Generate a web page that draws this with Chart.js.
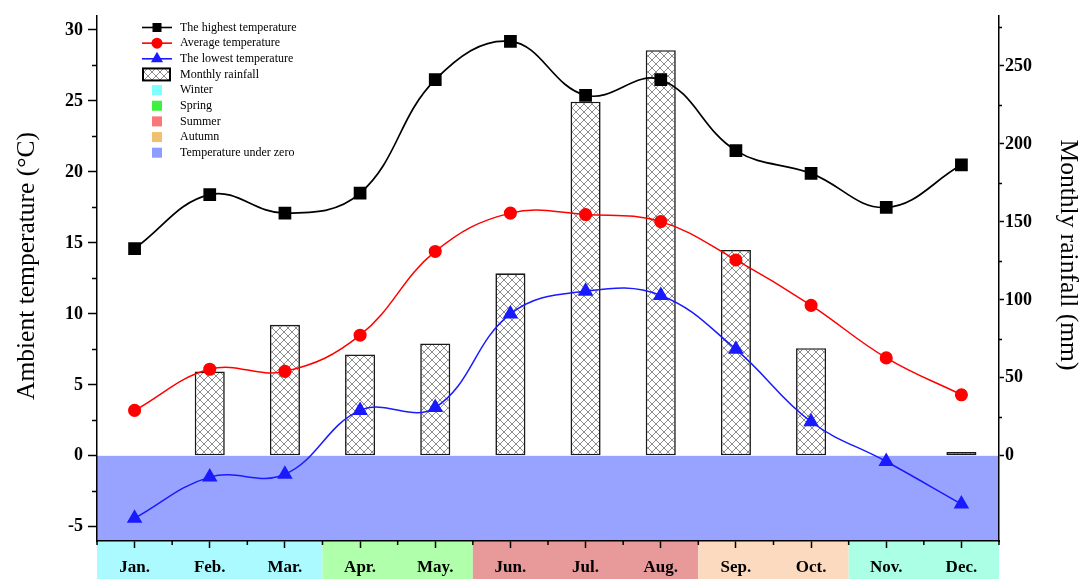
<!DOCTYPE html>
<html>
<head>
<meta charset="utf-8">
<script src="https://cdn.jsdelivr.net/npm/chart.js@4.4.1/dist/chart.umd.min.js"></script>
<style>
  html, body { margin: 0; padding: 0; background: #fff; }
  #wrap { width: 1082px; height: 579px; }
</style>
</head>
<body>
<div id="wrap"><canvas id="c" width="1082" height="579"></canvas></div>
<script>
// Monthly climate data
const months = ['Jan.', 'Feb.', 'Mar.', 'Apr.', 'May.', 'Jun.', 'Jul.', 'Aug.', 'Sep.', 'Oct.', 'Nov.', 'Dec.'];
const highestTemp = [14.6, 18.4, 17.1, 18.5, 26.5, 29.2, 25.4, 26.5, 21.5, 19.9, 17.5, 20.5];
const averageTemp = [3.2, 6.1, 5.95, 8.5, 14.4, 17.1, 17.0, 16.5, 13.8, 10.6, 6.9, 4.3];
const lowestTemp = [-4.4, -1.5, -1.3, 3.2, 3.4, 10.0, 11.6, 11.3, 7.5, 2.4, -0.4, -3.4];
const monthlyRainfall = [0, 54, 84, 65, 72, 117, 227, 260, 132, 69, 0, 2.5];

// Axis ticks
const tempTicks = [-5, 0, 5, 10, 15, 20, 25, 30];
const tempMinorTicks = [-2.5, 2.5, 7.5, 12.5, 17.5, 22.5, 27.5];
const rainTicks = [0, 50, 100, 150, 200, 250];
const rainMinorTicks = [25, 75, 125, 175, 225, 275];
const tempRange = [-6, 31];
const rainPerDegree = 9.1;

// Season spans along the month axis (first month index, last month index + 1)
const seasonSpans = [
  { from: 0, to: 3, color: '#aafaff' },
  { from: 3, to: 5, color: '#b0ffaa' },
  { from: 5, to: 8, color: '#e89a9a' },
  { from: 8, to: 10, color: '#fcdac0' },
  { from: 10, to: 12, color: '#aaffe4' }
];
const belowZeroColor = '#98a2ff';

const legendSeasons = [
  { label: 'Winter', color: '#80ffff' },
  { label: 'Spring', color: '#40f040' },
  { label: 'Summer', color: '#f87878' },
  { label: 'Autumn', color: '#eec070' },
  { label: 'Temperature under zero', color: '#8c9cff' }
];

const SERIF = '"Liberation Serif", "Times New Roman", serif';

const canvas = document.getElementById('c');
const ctx = canvas.getContext('2d');

// Cross-hatch fill for the rainfall bars
function makeHatch() {
  const t = document.createElement('canvas');
  t.width = 8; t.height = 8;
  const g = t.getContext('2d');
  g.fillStyle = '#ffffff';
  g.fillRect(0, 0, 8, 8);
  g.strokeStyle = '#808080';
  g.lineWidth = 0.9;
  g.beginPath();
  g.moveTo(-2, -2); g.lineTo(10, 10);
  g.moveTo(10, -2); g.lineTo(-2, 10);
  g.stroke();
  return ctx.createPattern(t, 'repeat');
}
const hatch = makeHatch();

function drawMarker(c, style, x, y, r, color) {
  c.save();
  c.fillStyle = color;
  c.beginPath();
  if (style === 'rect') {
    c.rect(x - r, y - r, 2 * r, 2 * r);
  } else if (style === 'circle') {
    c.arc(x, y, r, 0, Math.PI * 2);
  } else {
    c.moveTo(x, y - r);
    c.lineTo(x + r * 0.866, y + r * 0.5);
    c.lineTo(x - r * 0.866, y + r * 0.5);
    c.closePath();
  }
  c.fill();
  c.restore();
}

const decorPlugin = {
  id: 'decor',
  beforeDraw(chart) {
    const c = chart.ctx;
    const a = chart.chartArea;
    const xs = chart.scales.x;
    const ys = chart.scales.y;
    c.save();
    c.fillStyle = '#ffffff';
    c.fillRect(0, 0, chart.width, chart.height);
    // region below 0 °C
    const y0 = ys.getPixelForValue(0);
    c.fillStyle = belowZeroColor;
    c.fillRect(a.left, y0, a.right - a.left, a.bottom - y0);
    // season bands under the month axis
    const cw = (a.right - a.left) / months.length;
    seasonSpans.forEach(s => {
      const x1 = xs.getPixelForValue(s.from) - cw / 2;
      const x2 = xs.getPixelForValue(s.to - 1) + cw / 2;
      c.fillStyle = s.color;
      c.fillRect(x1, a.bottom, x2 - x1, chart.height - a.bottom);
    });
    c.restore();
  },
  afterDraw(chart) {
    const c = chart.ctx;
    const a = chart.chartArea;
    const ys = chart.scales.y;
    const ys1 = chart.scales.y1;
    c.save();
    // minor ticks
    c.strokeStyle = '#000';
    c.lineWidth = 1.5;
    c.beginPath();
    tempMinorTicks.forEach(v => {
      const y = Math.round(ys.getPixelForValue(v)) + 0.5;
      c.moveTo(a.left - 5, y); c.lineTo(a.left, y);
    });
    rainMinorTicks.forEach(v => {
      const y = Math.round(ys1.getPixelForValue(v)) + 0.5;
      c.moveTo(a.right, y); c.lineTo(a.right + 3, y);
    });
    const cw = (a.right - a.left) / months.length;
    for (let i = 0; i <= months.length; i++) {
      const x = a.left + i * cw;
      c.moveTo(x, a.bottom); c.lineTo(x, a.bottom + 4);
    }
    c.stroke();

    // axis titles
    c.fillStyle = '#000';
    c.font = '25.5px ' + SERIF;
    c.textAlign = 'center';
    c.textBaseline = 'middle';
    c.save();
    c.translate(27, 266);
    c.rotate(-Math.PI / 2);
    c.fillText('Ambient temperature (\u00B0C)', 0, 0);
    c.restore();
    c.save();
    c.translate(1068, 255);
    c.rotate(Math.PI / 2);
    c.fillText('Monthly rainfall (mm)', 0, 0);
    c.restore();

    // legend
    const lx = 142, tx = 180, top = 27.5, step = 15.65;
    c.font = '12px ' + SERIF;
    c.textAlign = 'left';
    c.textBaseline = 'middle';
    const lineEntries = [
      { label: 'The highest temperature', color: '#000', style: 'rect', r: 4.5 },
      { label: 'Average temperature', color: '#ff0000', style: 'circle', r: 5.5 },
      { label: 'The lowest temperature', color: '#1a1aff', style: 'tri', r: 7 }
    ];
    lineEntries.forEach((e, i) => {
      const y = top + i * step;
      c.strokeStyle = e.color;
      c.lineWidth = 1.6;
      c.beginPath();
      c.moveTo(lx, y); c.lineTo(lx + 30, y);
      c.stroke();
      drawMarker(c, e.style, lx + 15, y, e.r, e.color);
      c.fillStyle = '#000';
      c.fillText(e.label, tx, y);
    });
    const y = top + 3 * step;
    c.fillStyle = hatch;
    c.fillRect(lx + 1, y - 6, 27, 12);
    c.strokeStyle = '#000';
    c.lineWidth = 2;
    c.strokeRect(lx + 1, y - 6, 27, 12);
    c.fillStyle = '#000';
    c.fillText('Monthly rainfall', tx, y);
    legendSeasons.forEach((s, i) => {
      const yy = top + (4 + i) * step;
      c.fillStyle = s.color;
      c.fillRect(152, yy - 5, 10, 10);
      c.fillStyle = '#000';
      c.fillText(s.label, tx, yy);
    });
    c.restore();
  }
};

new Chart(ctx, {
  data: {
    labels: months,
    datasets: [
      {
        type: 'bar',
        label: 'Monthly rainfall',
        data: monthlyRainfall,
        yAxisID: 'y1',
        backgroundColor: hatch,
        borderColor: '#1a1a1a',
        borderWidth: 1.6,
        borderSkipped: false,
        barPercentage: 0.4,
        categoryPercentage: 1,
        order: 10
      },
      {
        type: 'line',
        label: 'The highest temperature',
        data: highestTemp,
        yAxisID: 'y',
        borderColor: '#000',
        borderWidth: 1.7,
        tension: 0.4,
        pointStyle: 'rect',
        pointRadius: 7.8,
        pointBackgroundColor: '#000',
        pointBorderColor: '#000',
        order: 3
      },
      {
        type: 'line',
        label: 'Average temperature',
        data: averageTemp,
        yAxisID: 'y',
        borderColor: '#ff0000',
        borderWidth: 1.5,
        tension: 0.4,
        pointStyle: 'circle',
        pointRadius: 5.8,
        pointBackgroundColor: '#ff0000',
        pointBorderColor: '#ff0000',
        order: 2
      },
      {
        type: 'line',
        label: 'The lowest temperature',
        data: lowestTemp,
        yAxisID: 'y',
        borderColor: '#1a1aff',
        borderWidth: 1.5,
        tension: 0.4,
        pointStyle: 'triangle',
        pointRadius: 7.5,
        pointBackgroundColor: '#1a1aff',
        pointBorderColor: '#1a1aff',
        order: 1
      }
    ]
  },
  options: {
    responsive: false,
    animation: false,
    devicePixelRatio: 1,
    layout: { padding: { top: 15, left: 0, right: 0, bottom: 0 } },
    plugins: {
      legend: { display: false },
      tooltip: { enabled: false }
    },
    scales: {
      x: {
        type: 'category',
        offset: true,
        grid: { offset: false, drawOnChartArea: false, drawTicks: true, tickLength: 7, tickColor: '#000', tickWidth: 1.5 },
        border: { display: true, color: '#000', width: 1.5 },
        ticks: { color: '#000', font: { family: SERIF, size: 17, weight: 'bold' }, padding: 9, maxRotation: 0, autoSkip: false },
        afterFit(s) { s.height = 38; }
      },
      y: {
        type: 'linear',
        position: 'left',
        min: tempRange[0],
        max: tempRange[1],
        grid: { drawOnChartArea: false, drawTicks: true, tickLength: 9, tickColor: '#000', tickWidth: 1.5 },
        border: { display: true, color: '#000', width: 1.5 },
        ticks: { color: '#000', font: { family: SERIF, size: 18, weight: 'bold' }, padding: 5 },
        afterBuildTicks(s) { s.ticks = tempTicks.map(v => ({ value: v })); },
        afterFit(s) { s.width = 97; }
      },
      y1: {
        type: 'linear',
        position: 'right',
        min: tempRange[0] * rainPerDegree,
        max: tempRange[1] * rainPerDegree,
        grid: { drawOnChartArea: false, drawTicks: true, tickLength: 5, tickColor: '#000', tickWidth: 1.5 },
        border: { display: true, color: '#000', width: 1.5 },
        ticks: { color: '#000', font: { family: SERIF, size: 18, weight: 'bold' }, padding: 1 },
        afterBuildTicks(s) { s.ticks = rainTicks.map(v => ({ value: v })); },
        afterFit(s) { s.width = 83; }
      }
    }
  },
  plugins: [decorPlugin]
});
</script>
</body>
</html>
